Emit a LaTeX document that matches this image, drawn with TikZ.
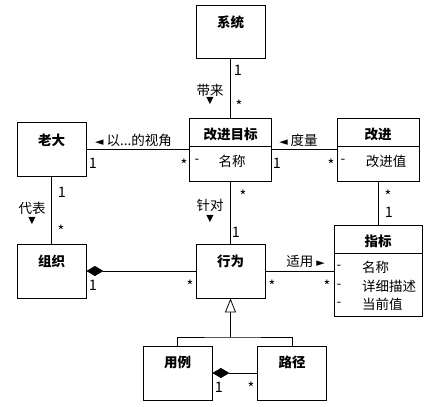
\documentclass[tikz,border=0pt]{standalone}
\usepackage{fontspec}
\setmainfont{Noto Sans CJK SC}
\newfontfamily\symfont{DejaVu Sans}
\usetikzlibrary{arrows.meta,positioning,calc}
\newcommand{\ptr}[1]{{\symfont\fontsize{11}{12}\selectfont #1}}
\tikzset{
  cls/.style  = {rectangle, draw, line width=0.8pt, fill=white, inner sep=0pt,
                 minimum width=69pt, minimum height=54pt},
  wcls/.style = {cls, minimum width=82pt, minimum height=63pt},
  ttl/.style  = {font=\bfseries\fontsize{13.5}{16}\selectfont, inner sep=0pt},
  attr/.style = {font=\fontsize{13.5}{16}\selectfont, inner sep=0pt},
  lab/.style  = {font=\fontsize{13.5}{16}\selectfont, inner sep=0pt},
  mul/.style  = {font=\fontsize{14.5}{16}\selectfont, inner sep=0pt},
  tri/.style  = {font=\symfont\fontsize{9.5}{10}\selectfont, inner sep=0pt},
  asc/.style  = {line width=0.8pt},
  comp/.style = {-{Diamond[length=17pt,width=10pt]}, line width=0.8pt},
  gen/.style  = {-{Triangle[open,length=14pt,width=11pt]}, line width=0.8pt},
}
\begin{document}
\begin{tikzpicture}[x=1pt,y=-1pt]
  \useasboundingbox[fill=white] (0,0) rectangle (427,406);

  % classes
  \node[cls, minimum height=53pt] (sys) at (230.5,31.5) {};
  \node[cls] (boss) at (51.5,149.5) {};
  \node[wcls] (goal) at (230.5,149.5) {};
  \node[wcls] (imp) at (378,149.5) {};
  \node[cls] (org) at (51.5,271) {};
  \node[cls] (beh) at (230.5,271) {};
  \node[cls, minimum width=88pt, minimum height=91pt] (ind) at (378,271) {};
  \node[cls] (uc) at (177.5,373) {};
  \node[cls] (path) at (292,373) {};

  \node[ttl] (sys-t) at ($(sys.north)+(0,18)$) {系统};
  \node[ttl] (boss-t) at ($(boss.north)+(0,18)$) {老大};
  \node[ttl] (goal-t) at ($(goal.north)+(0,17)$) {改进目标};
  \node[ttl] (imp-t) at ($(imp.north)+(0,17)$) {改进};
  \node[ttl] (org-t) at ($(org.north)+(0,18)$) {组织};
  \node[ttl] (beh-t) at ($(beh.north)+(0,18)$) {行为};
  \node[ttl] (ind-t) at ($(ind.north)+(0,16)$) {指标};
  \node[ttl] (uc-t) at ($(uc.north)+(0,17)$) {用例};
  \node[ttl] (path-t) at ($(path.north)+(0,17)$) {路径};

  % compartments
  \draw[asc] ($(goal.north west)+(0,29)$) -- ($(goal.north east)+(0,29)$);
  \draw[asc] ($(imp.north west)+(0,29)$) -- ($(imp.north east)+(0,29)$);
  \draw[asc] ($(ind.north west)+(0,28)$) -- ($(ind.north east)+(0,28)$);

  \node[attr] (goal-d) at (197,161) {-};
  \node[attr] (goal-a) at (232,161) {名称};
  \node[attr] (imp-d) at (343,161) {-};
  \node[attr] (imp-a) at (386,161) {改进值};
  \node[attr] (ind-d1) at (339,267) {-};
  \node[attr] (ind-d2) at (339,286) {-};
  \node[attr] (ind-d3) at (339,304) {-};
  \node[attr, anchor=west] (ind-a1) at (362,267) {名称};
  \node[attr, anchor=west] (ind-a2) at (362,286) {详细描述};
  \node[attr, anchor=west] (ind-a3) at (362,304) {当前值};

  % connectors
  \draw[asc] (sys) -- (goal);
  \draw[asc] (boss) -- (goal);
  \draw[asc] (goal) -- (imp);
  \draw[asc] (boss) -- (org);
  \draw[asc] (goal) -- (beh);
  \draw[asc] (imp) -- (ind);
  \draw[comp] (beh) -- (org);
  \draw[asc] (beh) -- (ind);
  \draw[comp] (path) -- (uc);
  \coordinate (j) at (230.5,337);
  \draw[gen] (j) -- (beh);
  \draw[asc] (uc.north) |- (j) -| (path.north);

  % association names
  \node[lab] (n1) at (210,90) {带来};
  \node[tri] (n1a) at (210,101) {▼};
  \node[lab] (n2) at (133.5,140) {\ptr{◄}\ 以...的视角};
  \node[lab] (n3) at (298.5,140) {\ptr{◄}\ 度量};
  \node[lab] (n4) at (32,208) {代表};
  \node[tri] (n4a) at (32,221) {▼};
  \node[lab] (n5) at (210,205) {针对};
  \node[tri] (n5a) at (210,219) {▼};
  \node[lab] (n6) at (305.5,261) {适用\ \ptr{►}};

  % multiplicities
  \node[mul] (m1) at (238,70) {1};
  \node[mul] (m2) at (239,106) {*};
  \node[mul] (m3) at (93,163) {1};
  \node[mul] (m4) at (184,165) {*};
  \node[mul] (m5) at (277,163) {1};
  \node[mul] (m6) at (331,165) {*};
  \node[mul] (m7) at (62,192) {1};
  \node[mul] (m8) at (61,231) {*};
  \node[mul] (m9) at (243,196) {*};
  \node[mul] (m10) at (236,232) {1};
  \node[mul] (m11) at (388,196) {*};
  \node[mul] (m12) at (389,212) {1};
  \node[mul] (m13) at (93,285) {1};
  \node[mul] (m14) at (190,286) {*};
  \node[mul] (m15) at (272,286) {*};
  \node[mul] (m16) at (327,286) {*};
  \node[mul] (m17) at (219,387) {1};
  \node[mul] (m18) at (251,388) {*};
\end{tikzpicture}
\end{document}
